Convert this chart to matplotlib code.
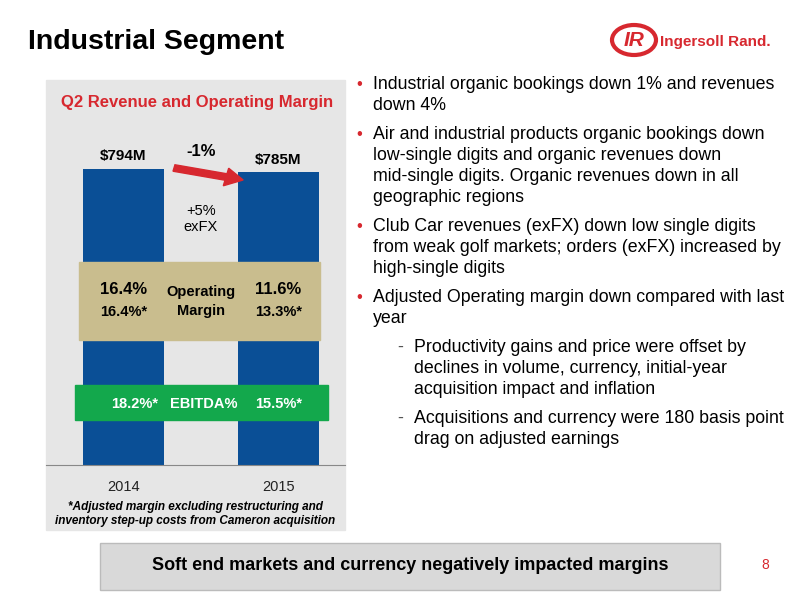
import matplotlib.pyplot as plt
from matplotlib.patches import Rectangle, Ellipse, FancyArrow

plt.rcParams["font.family"] = ["Liberation Sans", "DejaVu Sans"]

years = ["2014", "2015"]
revenue = [794, 785]
rev_labels = ["$794M", "$785M"]
op_margin = ["16.4%", "11.6%"]
adj_margin = ["16.4%*", "13.3%*"]
ebitda = ["18.2%*", "15.5%*"]

bullets = [
    (0, "Industrial organic bookings down 1% and revenues\ndown 4%"),
    (0, "Air and industrial products organic bookings down\nlow-single digits and organic revenues down\nmid-single digits. Organic revenues down in all\ngeographic regions"),
    (0, "Club Car revenues (exFX) down low single digits\nfrom weak golf markets; orders (exFX) increased by\nhigh-single digits"),
    (0, "Adjusted Operating margin down compared with last\nyear"),
    (1, "Productivity gains and price were offset by\ndeclines in volume, currency, initial-year\nacquisition impact and inflation"),
    (1, "Acquisitions and currency were 180 basis point\ndrag on adjusted earnings"),
]

BLUE = "#0a4f96"
RED = "#d7282f"
W, H = 800, 600

def fx(px):
    return px / W

def fy(py):
    return 1 - py / H

fig = plt.figure(figsize=(8, 6), dpi=100)

# gray panel
fig.patches.append(Rectangle((fx(46), fy(530)), fx(299), 450 / H, transform=fig.transFigure,
                             color="#e6e6e6", zorder=-5))

ax = fig.add_axes([fx(46), fy(465), fx(299), 335 / H])
ax.set_facecolor("none")
x = [0, 1]
ax.bar(x, revenue, width=0.52, color=BLUE, zorder=2)
ax.set_xlim(-0.5, 1.43)
ax.set_ylim(0, 898)
for s in ["top", "right", "left"]:
    ax.spines[s].set_visible(False)
ax.spines["bottom"].set_color("#888888")
ax.set_yticks([])
ax.set_xticks(x)
ax.set_xticklabels(years, fontsize=10.5, color="#222222")
ax.tick_params(axis="x", length=0, pad=11)
for xi, v, lab in zip(x, revenue, rev_labels):
    ax.text(xi, v + 15, lab, ha="center", va="bottom", fontsize=11, fontweight="bold")

# arrow and change labels
ax.text(0.5, 820, "-1%", ha="center", va="bottom", fontsize=12, fontweight="bold")
ax.text(0.5, 700, "+5%\nexFX", ha="center", va="top", fontsize=10.5)
ax.add_patch(FancyArrow(fx(174), fy(168), fx(52), -9 / H, width=0.011, head_width=0.03,
                        head_length=0.022, color=RED, transform=fig.transFigure, zorder=5,
                        clip_on=False))

# operating margin band
ax.add_patch(Rectangle((fx(79), fy(340)), fx(241), 78 / H, transform=fig.transFigure,
                       color="#c9bd8e", zorder=3, clip_on=False))
for xi, a, b in zip(x, op_margin, adj_margin):
    ax.text(xi, 470, a, ha="center", va="center", fontsize=12, fontweight="bold", zorder=6)
    ax.text(xi, 410, b, ha="center", va="center", fontsize=10.5, fontweight="bold", zorder=6)
ax.text(0.5, 438, "Operating\nMargin", ha="center", va="center", fontsize=10.5,
        fontweight="bold", zorder=6, linespacing=1.4)

# EBITDA band
ax.add_patch(Rectangle((fx(75), fy(420)), fx(253), 35 / H, transform=fig.transFigure,
                       color="#13a84c", zorder=3, clip_on=False))
for xi, e, dx in zip(x, ebitda, [0.07, 0.0]):
    ax.text(xi + dx, 164, e, ha="center", va="center", fontsize=10.5,
            fontweight="bold", color="white", zorder=6)
ax.text(0.52, 164, "EBITDA%", ha="center", va="center", fontsize=10.5, fontweight="bold",
        color="white", zorder=6)

fig.text(fx(197), fy(103), "Q2 Revenue and Operating Margin", ha="center", va="center",
         fontsize=12, fontweight="bold", color=RED)
fig.text(fx(195), fy(514), "*Adjusted margin excluding restructuring and\ninventory step-up costs from Cameron acquisition",
         ha="center", va="center", fontsize=8.5, fontweight="bold", style="italic", linespacing=1.2)

# title
fig.text(fx(28), fy(42), "Industrial Segment", ha="left", va="center", fontsize=20.5, fontweight="bold")

# logo
fig.patches.append(Ellipse((fx(634), fy(40)), fx(44), 30 / H, transform=fig.transFigure,
                           fill=False, ec=RED, lw=3))
fig.text(fx(634), fy(40), "IR", ha="center", va="center", fontsize=15, fontweight="bold",
         style="italic", color=RED)
fig.text(fx(660), fy(42), "Ingersoll Rand.", ha="left", va="center", fontsize=11,
         fontweight="bold", color=RED)

# bullets
y = 76
for lvl, txt in bullets:
    nlines = txt.count("\n") + 1
    if lvl == 0:
        fig.text(fx(356), fy(y + 1), "•", ha="left", va="top", fontsize=12, color=RED)
        fig.text(fx(373), fy(y), txt, ha="left", va="top", fontsize=12.8, linespacing=1.31)
    else:
        fig.text(fx(397), fy(y), "-", ha="left", va="top", fontsize=12.8, color="#555555")
        fig.text(fx(414), fy(y), txt, ha="left", va="top", fontsize=12.8, linespacing=1.31)
    y += nlines * 21.2 + 7.5

# bottom banner
fig.patches.append(Rectangle((fx(100), fy(590)), fx(620), 47 / H, transform=fig.transFigure,
                             color="#d9d9d9", ec="#bbbbbb", zorder=-5))
fig.text(fx(410), fy(566), "Soft end markets and currency negatively impacted margins",
         ha="center", va="center", fontsize=13, fontweight="bold")
fig.text(fx(765), fy(565), "8", ha="center", va="center", fontsize=10, color=RED)

fig.savefig("out.png", dpi=100)
